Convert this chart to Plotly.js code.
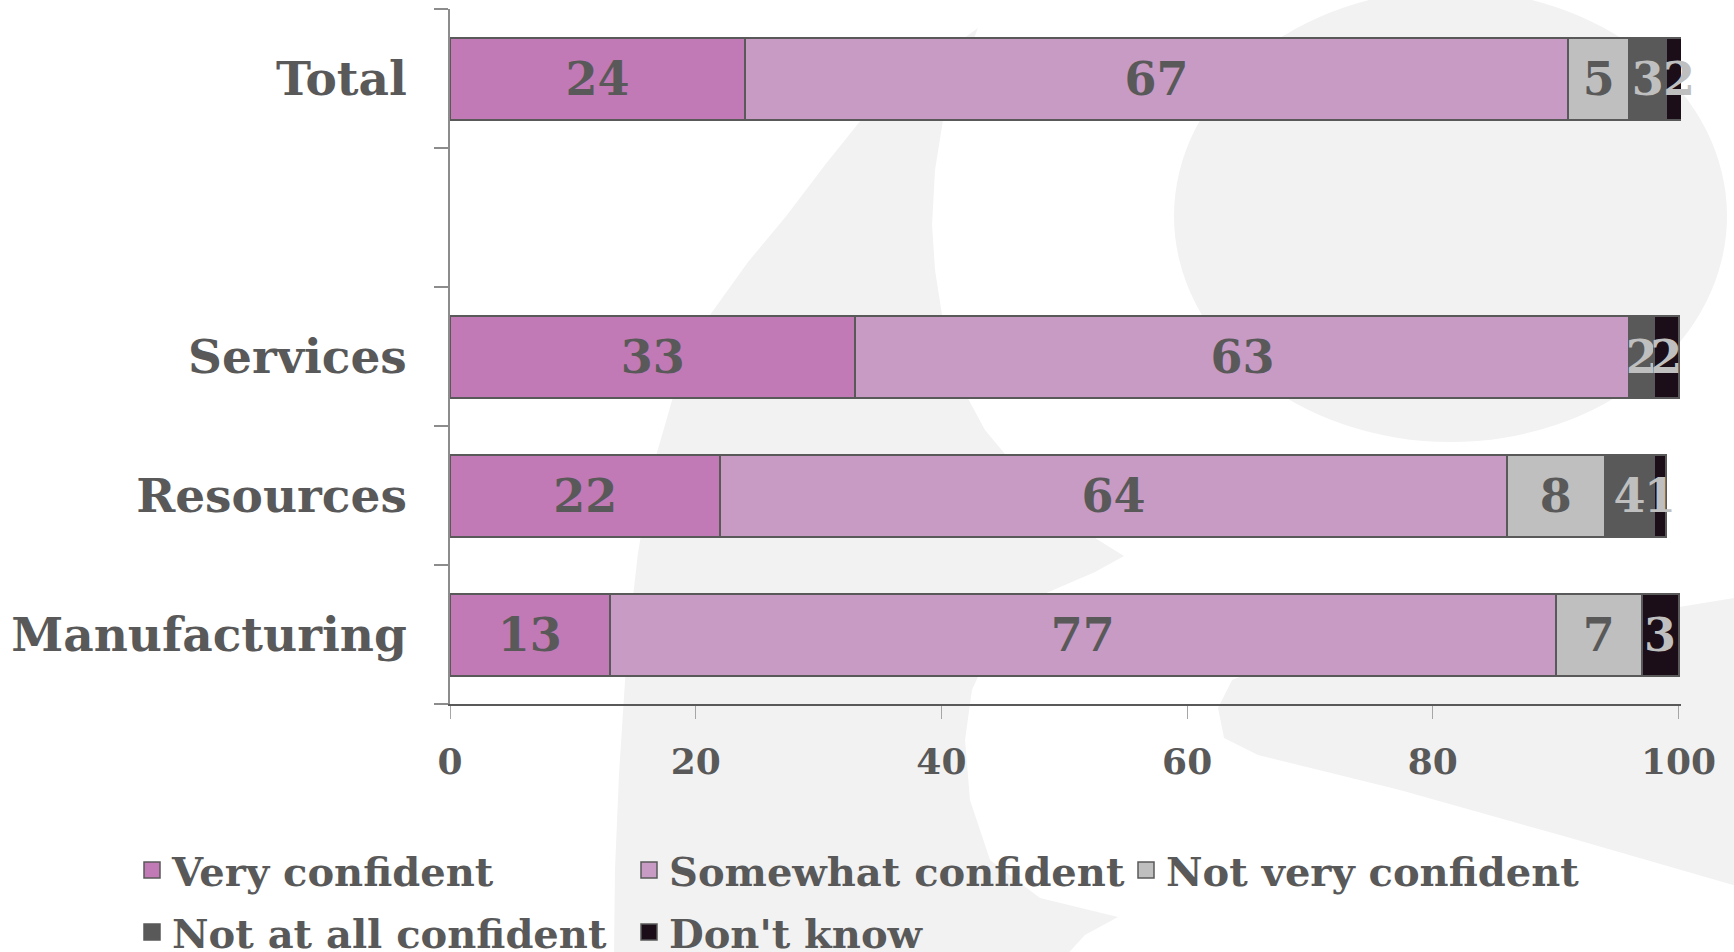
<!DOCTYPE html>
<html>
<head>
<meta charset="utf-8">
<script src="https://cdn.plot.ly/plotly-3.0.1.min.js"></script>
<style>html,body{margin:0;padding:0;background:#fff;}#chart{width:1734px;height:952px;}</style>
</head>
<body>
<div id="chart"></div>
<script>
// ---- data ----
const categories = ['Manufacturing', 'Resources', 'Services', ' ', 'Total'];
const seriesNames = ['Very confident', 'Somewhat confident', 'Not very confident', 'Not at all confident', "Don't know"];
const veryConfident     = [13, 22, 33, null, 24];
const somewhatConfident = [77, 64, 63, null, 67];
const notVeryConfident  = [7, 8, null, null, 5];
const notAtAllConfident = [null, 4, 2, null, 3];
const dontKnow          = [3, 1, 2, null, 2];
const xTicks = [0, 20, 40, 60, 80, 100];
const xMax = 100.2;

// ---- styles ----
const seriesColors = ['#C17AB5', '#C89BC5', '#BFBFBF', '#595959', '#1B0E18'];
const labelColors  = ['#595959', '#595959', '#595959', '#BFBFBF', '#BFBFBF'];
const FONT = 'Georgia, "DejaVu Serif", serif';
const TXT = '#595959';
const LABEL_SIZE = 46;

const seriesValues = [veryConfident, somewhatConfident, notVeryConfident, notAtAllConfident, dontKnow];

// labels of segments that run past the axis end are drawn as annotations (bars are trimmed at the range)
const texts = seriesValues.map(v => v.map(x => (x == null ? '' : String(x))));
const annotations = [];
categories.forEach((c, j) => {
  let cum = 0;
  seriesValues.forEach((vals, i) => {
    const v = vals[j];
    if (v == null) return;
    const start = cum, end = cum + v;
    cum = end;
    if (end > xMax) {
      texts[i][j] = '';
      annotations.push({
        x: (start + end) / 2, y: c, xref: 'x', yref: 'y', text: String(v), showarrow: false,
        xanchor: 'center', yanchor: 'middle',
        font: { family: FONT, size: LABEL_SIZE, color: labelColors[i], weight: 700 }
      });
    }
  });
});

const traces = [];
seriesValues.forEach((vals, i) => {
  traces.push({
    type: 'bar', orientation: 'h',
    x: vals, y: categories,
    name: seriesNames[i],
    showlegend: false,
    marker: { color: seriesColors[i], line: { color: '#595959', width: 2 } },
    text: texts[i],
    texttemplate: '%{text}',
    textposition: 'inside',
    insidetextanchor: 'middle',
    constraintext: 'none',
    cliponaxis: false,
    textfont: { family: FONT, size: LABEL_SIZE, color: labelColors[i], weight: 700 },
    hoverinfo: 'x+y+name'
  });
});
// legend entries (larger square symbols)
seriesNames.forEach((n, i) => {
  traces.push({
    type: 'scatter', mode: 'markers',
    x: [null], y: [null],
    name: n,
    legend: i < 3 ? 'legend' : 'legend2',
    marker: { symbol: 'square', size: 16, color: seriesColors[i], line: { color: '#595959', width: 1.5 } },
    hoverinfo: 'skip'
  });
});

// ---- background watermark (decorative) ----
const L = 450, T = 9, W = 1231, H = 695;
function pp(pts) {
  return pts.map((p, k) => (k ? 'L' : 'M') + ((p[0] - L) / W).toFixed(4) + ',' + ((T + H - p[1]) / H).toFixed(4)).join(' ') + ' Z';
}
const swoosh = [
  [614,960],[615,870],[619,774],[627,650],[638,553],[652,470],[675,390],[710,315],[748,262],[787,215],
  [825,165],[861,120],[920,70],[978,28],
  [962,70],[943,120],[935,170],[932,225],[935,270],[942,315],[958,380],[985,430],[1010,460],[1050,510],[1124,556],
  [1095,572],[1030,600],[995,640],[972,690],[965,740],[970,800],[990,860],[1040,898],[1118,917],
  [1085,935],[1062,960]
];
const tail = [
  [1740,597],[1600,620],[1500,640],[1400,655],[1330,662],[1262,668],[1232,680],[1218,708],[1224,738],[1258,755],
  [1400,790],[1560,835],[1740,887]
];
const shapes = [
  { type: 'path', xref: 'paper', yref: 'paper', layer: 'below', path: pp(swoosh), fillcolor: '#F2F2F2', line: { width: 0 } },
  { type: 'path', xref: 'paper', yref: 'paper', layer: 'below', path: pp(tail), fillcolor: '#F2F2F2', line: { width: 0 } },
  { type: 'circle', xref: 'paper', yref: 'paper', layer: 'below',
    x0: (1174 - L) / W, x1: (1727 - L) / W, y0: (T + H - 442) / H, y1: (T + H + 10) / H,
    fillcolor: '#F2F2F2', line: { width: 0 } }
];

const legendCommon = {
  orientation: 'h', xanchor: 'left', yanchor: 'middle',
  x: (132 - L) / W,
  entrywidth: 452, entrywidthmode: 'pixels',
  bgcolor: 'rgba(0,0,0,0)', borderwidth: 0,
  font: { family: FONT, size: 40, color: TXT, weight: 700 },
  traceorder: 'normal'
};

const layout = {
  width: 1734, height: 952,
  margin: { l: L, r: 1734 - L - W, t: T, b: 952 - T - H, autoexpand: false },
  paper_bgcolor: '#FFFFFF', plot_bgcolor: 'rgba(0,0,0,0)',
  barmode: 'stack', bargap: 0.41,
  font: { family: FONT, color: TXT },
  showlegend: true,
  legend: Object.assign({}, legendCommon, { y: (T + H - 870) / H }),
  legend2: Object.assign({}, legendCommon, { y: (T + H - 932) / H }),
  xaxis: {
    range: [0, xMax], tickvals: xTicks, ticktext: xTicks.map(String),
    showgrid: false, zeroline: false,
    showline: true, linecolor: '#595959', linewidth: 1.5,
    ticks: 'outside', ticklen: 13, tickwidth: 1, tickcolor: '#A6A6A6',
    ticklabelstandoff: 12,
    tickfont: { family: FONT, size: 36, color: TXT, weight: 700 },
    fixedrange: true
  },
  yaxis: {
    type: 'category', categoryorder: 'array', categoryarray: categories,
    showgrid: false, zeroline: false,
    showline: true, linecolor: '#8C8C8C', linewidth: 1.5,
    ticks: 'outside', tickson: 'boundaries', ticklen: 14, tickwidth: 1.5, tickcolor: '#8C8C8C',
    ticklabelstandoff: 32,
    tickfont: { family: FONT, size: 47, color: TXT, weight: 700 },
    fixedrange: true
  },
  annotations: annotations,
  shapes: shapes
};

Plotly.newPlot('chart', traces, layout, { displayModeBar: false, responsive: false });
</script>
</body>
</html>
